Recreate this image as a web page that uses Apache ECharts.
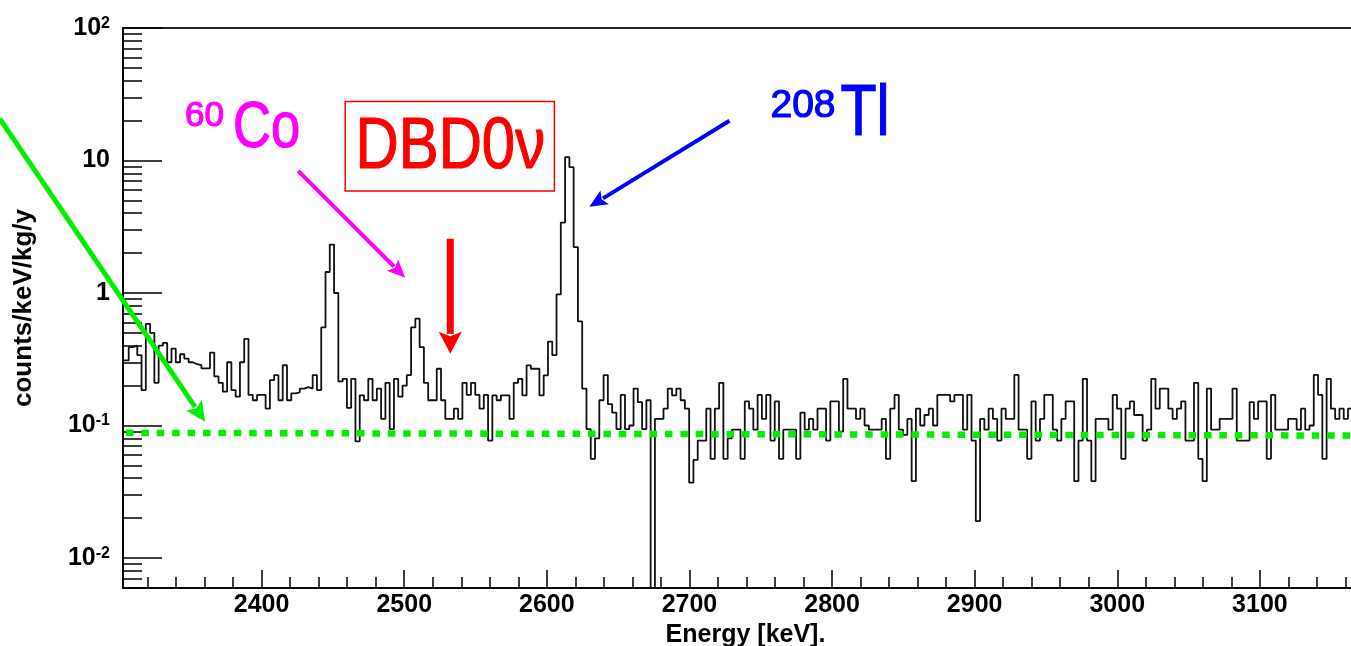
<!DOCTYPE html>
<html><head><meta charset="utf-8">
<script src="https://cdn.jsdelivr.net/npm/echarts@6/dist/echarts.min.js"></script>
<style>html,body{margin:0;padding:0;background:#fff}#c{width:1351px;height:646px}</style>
</head><body><div id="c"></div>
<script>
// ---------------- data ----------------
const BIN_START = 2300.8;   // keV, lower edge of first histogram bin
const BIN_WIDTH = 3;        // keV
const counts = [
  0.31, 0.31, 0.39, 0.40, 0.34, 0.185, 0.585, 0.50, 0.21, 0.40,
  0.42, 0.30, 0.38, 0.30, 0.345, 0.32, 0.30, 0.29, 0.285, 0.27,
  0.27, 0.355, 0.235, 0.21, 0.18, 0.30, 0.185, 0.165, 0.30, 0.45,
  0.17, 0.155, 0.17, 0.17, 0.134, 0.22, 0.24, 0.155, 0.285, 0.155,
  0.175, 0.178, 0.19, 0.195, 0.19, 0.24, 0.185, 0.55, 1.44, 2.32,
  1.0, 0.215, 0.225, 0.136, 0.225, 0.076, 0.169, 0.155, 0.225, 0.155,
  0.19, 0.112, 0.21, 0.094, 0.225, 0.165, 0.20, 0.24, 0.55, 0.64,
  0.39, 0.21, 0.155, 0.155, 0.268, 0.155, 0.112, 0.112, 0.134, 0.112,
  0.21, 0.17, 0.21, 0.17, 0.134, 0.17, 0.077, 0.169, 0.155, 0.169,
  0.169, 0.112, 0.21, 0.225, 0.169, 0.284, 0.268, 0.268, 0.169, 0.239,
  0.43, 0.34, 0.975, 3.4, 10.6, 8.9, 2.22, 0.61, 0.19, 0.094,
  0.056, 0.08, 0.155, 0.24, 0.145, 0.125, 0.094, 0.17, 0.094, 0.10,
  0.19, 0.15, 0.094, 0.155, 0, 0.112, 0.112, 0.134, 0.19, 0.169,
  0.19, 0.155, 0.134, 0.037, 0.055, 0.077, 0.077, 0.134, 0.056, 0.134,
  0.21, 0.056, 0.08, 0.093, 0.093, 0.056, 0.152, 0.134, 0.093, 0.17,
  0.112, 0.17, 0.077, 0.152, 0.056, 0.093, 0.093, 0.093, 0.056, 0.125,
  0.093, 0.112, 0.093, 0.134, 0.134, 0.077, 0.152, 0.152, 0.09, 0.225,
  0.134, 0.134, 0.112, 0.134, 0.10, 0.093, 0.093, 0.093, 0.112, 0.056,
  0.134, 0.17, 0.093, 0.085, 0.112, 0.038, 0.134, 0.10, 0.12, 0.134,
  0.10, 0.17, 0.17, 0.17, 0.152, 0.17, 0.17, 0.093, 0.17, 0.077,
  0.019, 0.112, 0.093, 0.134, 0.112, 0.077, 0.134, 0.112, 0.112, 0.241,
  0.093, 0.093, 0.056, 0.152, 0.077, 0.112, 0.17, 0.17, 0.093, 0.077,
  0.112, 0.152, 0.152, 0.038, 0.077, 0.225, 0.077, 0.038, 0.112, 0.112,
  0.112, 0.093, 0.17, 0.134, 0.056, 0.134, 0.152, 0.12, 0.12, 0.077,
  0.093, 0.225, 0.134, 0.19, 0.19, 0.134, 0.112, 0.134, 0.152, 0.077,
  0.077, 0.21, 0.056, 0.038, 0.19, 0.093, 0.093, 0.112, 0.112, 0.112,
  0.19, 0.077, 0.077, 0.077, 0.15, 0.112, 0.152, 0.152, 0.056, 0.17,
  0.093, 0.093, 0.093, 0.112, 0.112, 0.093, 0.134, 0.093, 0.10, 0.241,
  0.17, 0.056, 0.225, 0.134, 0.112, 0.134, 0.112, 0.134, 0.112
];
const backgroundLevel = [[2302.8, 0.088], [3166, 0.084]];   // [keV, counts/keV/kg/y]
const xMajorTicks = [2400, 2500, 2600, 2700, 2800, 2900, 3000, 3100];
const xMinorTicks = [2320, 2340, 2360, 2380, 2420, 2440, 2460, 2480, 2520, 2540, 2560, 2580,
  2620, 2640, 2660, 2680, 2720, 2740, 2760, 2780, 2820, 2840, 2860, 2880, 2920, 2940, 2960, 2980,
  3020, 3040, 3060, 3080, 3120, 3140, 3160];
const yMajorTicks = [0.01, 0.1, 1, 10, 100];
const yMinorTicks = [0.006, 0.007, 0.008, 0.009, 0.02, 0.03, 0.04, 0.05, 0.06, 0.07, 0.08, 0.09,
  0.2, 0.3, 0.4, 0.5, 0.6, 0.7, 0.8, 0.9, 2, 3, 4, 5, 6, 7, 8, 9, 20, 30, 40, 50, 60, 70, 80, 90];

// annotations, anchored in data coordinates [keV, counts/keV/kg/y]
const ANN = {
  greenArrow:   { from: [2216.5, 20.6], to: [2360.4, 0.1067] },
  magentaArrow: { from: [2425.6, 8.36], to: [2500.7, 1.302] },
  blueArrow:    { from: [2728.1, 19.93], to: [2629.8, 4.474] },
  redArrow:     { from: [2532.3, 2.566], to: [2532.3, 0.3475] },
  box:          { a: [2458.6, 27.88], b: [2605.3, 5.875] },
  co60num: [2346.3, 21.56], co60sym: [2380.0, 17.05],
  dbd: [2532.3, 12.47],
  tl208num: [2756.8, 25.6], tl208sym: [2805.9, 22.13]
};

// ---------------- chart ----------------
const X_MIN = 2302.8, X_MAX = 3166, Y_MIN = 0.005936, Y_MAX = 100;
const LOG_FLOOR = 1e-4;
const histData = counts.map((c, k) => [BIN_START + k * BIN_WIDTH, c > 0 ? c : LOG_FLOOR]);
histData.push([BIN_START + counts.length * BIN_WIDTH, counts[counts.length - 1] || LOG_FLOOR]);

const FONT = "'Liberation Sans', Arial, Helvetica, sans-serif";
const labelStyle = { fontFamily: FONT, fontSize: 25, fontWeight: 'bold', color: '#000' };

function yFmt(v) {
  const e = Math.round(Math.log10(v));
  if (e === 0) return '1';
  if (e === 1) return '10';
  return '10{s|' + e + '}';
}

const chart = echarts.init(document.getElementById('c'), null, { renderer: 'canvas' });
chart.setOption({
  animation: false,
  backgroundColor: '#fff',
  grid: { left: 123, top: 28, right: -3, bottom: 58, show: true, borderColor: '#222', borderWidth: 2,
          containLabel: false, outerBoundsMode: 'none' },
  xAxis: [
    { type: 'value', min: X_MIN, max: X_MAX, position: 'bottom',
      axisLine: { show: true, onZero: false, lineStyle: { color: '#000', width: 1.5 } },
      axisTick: { show: true, inside: true, length: 18, customValues: xMajorTicks, lineStyle: { color: '#000', width: 1.5 } },
      axisLabel: Object.assign({ show: true, customValues: xMajorTicks, margin: 5, formatter: (v) => String(v) }, labelStyle),
      splitLine: { show: false },
      name: 'Energy [keV].', nameLocation: 'middle', nameGap: 29,
      nameTextStyle: { fontFamily: FONT, fontSize: 25, fontWeight: 'bold', color: '#000', padding: [0, 0, 0, 14] } },
    { type: 'value', min: X_MIN, max: X_MAX, position: 'bottom',
      axisLine: { show: false },
      axisTick: { show: true, inside: true, length: 11, customValues: xMinorTicks, lineStyle: { color: '#000', width: 1.5 } },
      axisLabel: { show: false }, splitLine: { show: false } }
  ],
  yAxis: [
    { type: 'log', logBase: 10, min: Y_MIN, max: Y_MAX, position: 'left',
      axisLine: { show: true, onZero: false, lineStyle: { color: '#000', width: 1.5 } },
      axisTick: { show: true, inside: true, length: 39, customValues: yMajorTicks, lineStyle: { color: '#000', width: 1.5 } },
      axisLabel: Object.assign({ show: true, customValues: yMajorTicks, margin: 13, formatter: yFmt,
        rich: { s: { fontFamily: FONT, fontSize: 16, fontWeight: 'bold', color: '#000', verticalAlign: 'top' } } }, labelStyle),
      splitLine: { show: false },
      name: 'counts/keV/kg/y', nameLocation: 'middle', nameGap: 86,
      nameTextStyle: { fontFamily: FONT, fontSize: 26, fontWeight: 'bold', color: '#000' } },
    { type: 'log', logBase: 10, min: Y_MIN, max: Y_MAX, position: 'left',
      axisLine: { show: false },
      axisTick: { show: true, inside: true, length: 19, customValues: yMinorTicks, lineStyle: { color: '#000', width: 1.5 } },
      axisLabel: { show: false }, splitLine: { show: false } }
  ],
  series: [
    { type: 'line', name: 'spectrum', xAxisIndex: 0, yAxisIndex: 0, step: 'end', data: histData,
      showSymbol: false, symbol: 'none', clip: true, z: 2,
      lineStyle: { color: '#111', width: 1.8 } },
    { type: 'line', name: 'background', xAxisIndex: 0, yAxisIndex: 0, data: backgroundLevel,
      showSymbol: false, symbol: 'none', clip: true, z: 3,
      lineStyle: { color: '#00ee00', width: 6.5, type: [7.5, 7.9], dashOffset: -3, cap: 'butt' } }
  ]
});

// ---------------- annotations ----------------
const P = (d) => chart.convertToPixel({ xAxisIndex: 0, yAxisIndex: 0 }, d);
function arrow(a, color, w, headL, headW) {
  const p0 = P(a.from), p1 = P(a.to);
  const dx = p1[0] - p0[0], dy = p1[1] - p0[1], L = Math.hypot(dx, dy);
  const ux = dx / L, uy = dy / L, nx = -uy, ny = ux;
  const bx = p1[0] - ux * headL, by = p1[1] - uy * headL;
  return [
    { type: 'line', z: 100, shape: { x1: p0[0], y1: p0[1], x2: bx + ux * 2, y2: by + uy * 2 },
      style: { stroke: color, lineWidth: w, lineCap: 'butt' } },
    { type: 'polygon', z: 100, shape: { points: [[p1[0], p1[1]],
        [bx + nx * headW / 2, by + ny * headW / 2], [bx + ux * headL * 0.2, by + uy * headL * 0.2],
        [bx - nx * headW / 2, by - ny * headW / 2]] }, style: { fill: color } }
  ];
}
function label(anchor, text, color, size, align, sx) {
  const p = P(anchor);
  return { type: 'text', z: 101, x: p[0], y: p[1], scaleX: sx || 1, scaleY: 1,
    style: { text: text, fontFamily: FONT, fontSize: size, fill: color, align: align, verticalAlign: 'middle',
             stroke: color, lineWidth: 1.2 } };
}
const b0 = P(ANN.box.a), b1 = P(ANN.box.b);
const graphics = [].concat(
  arrow(ANN.greenArrow, '#00ee00', 5, 20, 19),
  arrow(ANN.magentaArrow, '#ff00ff', 4, 18, 16),
  arrow(ANN.blueArrow, '#0000ff', 4, 18, 16),
  arrow(ANN.redArrow, '#ff0000', 7, 22, 23),
  [{ type: 'rect', z: 100, shape: { x: b0[0], y: b0[1], width: b1[0] - b0[0], height: b1[1] - b0[1] },
     style: { fill: 'none', stroke: '#ff0000', lineWidth: 1.5 } }],
  [label(ANN.co60num, '60', '#ff00ff', 35, 'left', 1),
   label(ANN.co60sym, 'Co', '#ff00ff', 64, 'left', 0.82),
   label(ANN.dbd, 'DBD0\u03bd', '#ff0000', 73, 'center', 0.82),
   label(ANN.tl208num, '208', '#0000ff', 39, 'left', 1),
   label(ANN.tl208sym, 'Tl', '#0000ff', 72, 'left', 0.82)]
);
chart.setOption({ graphic: graphics });
</script>
</body></html>
